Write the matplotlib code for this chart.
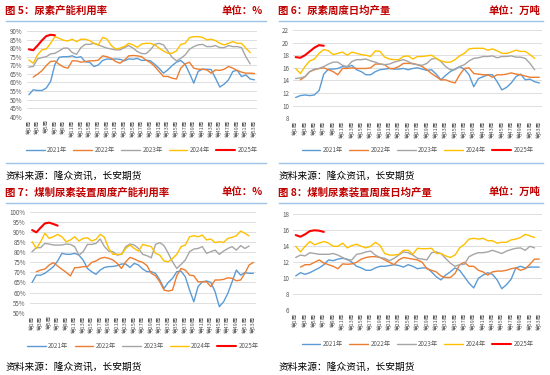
import numpy as np
import matplotlib
matplotlib.use("Agg")
import matplotlib.pyplot as plt
from matplotlib.lines import Line2D
from matplotlib.ticker import FuncFormatter

plt.rcParams['font.family'] = ['Noto Sans CJK SC', 'DejaVu Sans']

nan = np.nan
weeks = np.arange(1, 54)
tick_weeks = weeks[::2]
tick_labels = [f'第{w}周' for w in tick_weeks]
years = ['2021年', '2022年', '2023年', '2024年', '2025年']
colors = ['#5B9BD5', '#ED7D31', '#A5A5A5', '#FFC000', '#FF0000']

# 图5 尿素产能利用率 (%)
u21 = [52.8, 55.7, 55.3, 55.3, 56.7, 60.5, 70.5, 74.7, 75, 75, 75.5, 74.5, 75, 72, 71.8, 69.3, 70.2, 72.8,
       73.7, 73.5, 73.7, 73.5, 72.6, 73.7, 73.5, 74, 72.8, 73, 72.6, 70.6, 68.3, 65.4, 67.3, 69.8, 71.8,
       72.8, 70.6, 65.4, 59.6, 66.4, 67.7, 67.7, 67.5, 62.5, 57.3, 59, 61.5, 66.4, 67.1, 63.4, 64.4, 62, 61.5]
u22 = [nan, 63.1, 64.8, 66.8, 69.8, 72.2, 72.5, 70.5, 69, 68.3, 72.6, 72.6, 71.8, 72.2, 72.6, 72.6, 73, 75.5,
       75, 74, 72.2, 71.2, 73, 75.5, 75.7, 75.5, 75, 73, 71.6, 69.3, 66.4, 63.5, 63.5, 62.5, 62, 68.3, 70.8,
       71.8, 68.3, 67.7, 67.7, 67.3, 65.4, 67.3, 67, 67.7, 69.3, 68.3, 67, 66, 65.4, 65.4, 65.2]
u23 = [68.9, 69.3, 73.7, 74.5, 75, 76.6, 77, 78.4, 80, 80, 77.4, 76.4, 80.3, 82.2, 82.2, 82.8, 81.9, 80.9,
       80, 79.5, 79, 79, 80.3, 81.5, 80, 78, 76.8, 76.8, 79, 82.2, 82.8, 81.9, 78.4, 74.7, 72.6, 74, 76,
       79.3, 80.9, 81.9, 82.2, 80.9, 80.9, 81.5, 80.3, 80.3, 81.5, 80.9, 80.9, 80.3, 75, 70.8, nan]
u24 = [73.1, 71.2, 76, 79, 79.5, 82.8, 86.7, 85.7, 84.6, 84.2, 85.2, 83.8, 85.2, 85.2, 84.4, 82.8, 81.9, 86.3,
       85.3, 81.5, 79.5, 80, 80.9, 82.8, 81.9, 80.5, 82.4, 82.8, 82.8, 81.9, 80, 78.4, 77, 77, 78.4, 82.2,
       82.8, 86.1, 86.7, 86.7, 86.3, 84.8, 85.2, 84.4, 82.8, 81.9, 82.8, 83.8, 82.8, 82.8, 80, 77.4, nan]
u25 = [79.3, 78.8, 81.5, 84.5, 87, 87.8, 87.5]

# 图6 尿素周度日均产量 (万吨)
p21 = [11.3, 11.6, 11.7, 11.6, 11.7, 12.4, 15.0, 15.8, 15.8, 15.9, 16.2, 16.1, 16.4, 15.7, 15.4, 14.9, 14.9,
       15.4, 15.7, 15.8, 15.9, 15.8, 15.8, 15.9, 15.7, 15.9, 16, 15.8, 15.6, 15.7, 15, 14.1, 14.8, 15.4, 15.8,
       16.2, 15.8, 14.9, 13, 14.3, 14.6, 14.9, 14.9, 13.8, 12.5, 12.9, 13.6, 14.6, 15, 14.1, 14.2, 13.8, 13.6]
p22 = [nan, 14.1, 14.6, 15.4, 15.7, 15.9, 16, 15.7, 15.4, 14.9, 15.9, 15.9, 16, 15.9, 15.9, 15.9, 16, 16.6,
       16.6, 16.5, 15.9, 15.9, 16.2, 16.7, 16.7, 16.7, 16.5, 16.2, 15.7, 15.1, 14.6, 14.1, 14.1, 13.8, 13.6,
       14.9, 15.9, 16, 15.1, 15, 14.9, 14.9, 14.5, 14.9, 14.9, 15, 15.2, 15, 14.9, 14.7, 14.5, 14.5, 14.5]
p23 = [14.3, 14.4, 14.6, 15.4, 15.8, 15.9, 16.2, 16.6, 16.9, 16.9, 16.4, 16.2, 17, 17.3, 17.3, 17.4, 17.1,
       16.9, 16.6, 16.5, 16.6, 16.9, 17.1, 17.3, 17, 16.6, 16.5, 16.4, 16.7, 17.4, 17.5, 17, 16.2, 15.7, 15.7,
       16.2, 16.5, 17.1, 17.5, 17.6, 17.8, 17.8, 17.9, 17.6, 17.8, 17.8, 17.9, 17.7, 17.7, 17.5, 16.7, 15.7, nan]
p24 = [15.9, 15.1, 16.2, 17.1, 17.4, 18.3, 18.9, 18.7, 18.1, 18.3, 18.5, 18, 18.5, 18.3, 18.1, 18, 17.8,
       18.7, 18.6, 17.7, 17.4, 17.3, 17.3, 17.8, 17.9, 17.4, 17.8, 17.8, 17.9, 18, 17.5, 17.1, 16.9, 16.9,
       17.3, 17.9, 18.3, 19, 19.1, 19.1, 19.1, 18.8, 19, 18.7, 18.3, 18.3, 18.5, 18.8, 18.6, 18.6, 18.1, 17.5, nan]
p25 = [17.7, 17.6, 18, 18.6, 19.2, 19.6, 19.5]

# 图7 煤制尿素装置周度产能利用率 (%)
c21 = [65, 68.6, 68.6, 69.5, 71.1, 72.8, 75.6, 79.4, 78.9, 78.9, 79.4, 78.5, 76, 71.9, 70.3, 69, 71.1, 72.4,
       72.8, 72.9, 73.3, 74.1, 74.1, 72.4, 74.4, 73.6, 71.6, 70.3, 70.3, 69.5, 66.2, 62, 65, 67, 70.3, 70.6,
       67.8, 61.2, 55.4, 62.9, 65.3, 65.7, 65, 60.4, 53, 55.4, 59.6, 65.3, 71.1, 68.6, 69.8, 69.5, 69.5]
c22 = [nan, 70.3, 71.1, 71.6, 73.6, 74.8, 73.1, 71.5, 70, 68.2, 72.3, 72.4, 72.8, 72.8, 74.9, 75.6, 76.9,
       77.4, 76.9, 76.1, 74.4, 71.9, 75.2, 77.4, 76.6, 75.6, 74.9, 73.3, 69.5, 68.3, 65.3, 61.2, 60.7, 61.2,
       68.3, 71.9, 71.1, 68.6, 68.3, 65.3, 65.3, 65.3, 62.9, 66.2, 66.2, 66.5, 67.3, 67, 65.8, 66.2, 69.5, 73.6, 74.9]
c23 = [80.2, 82.2, 82.2, 84.3, 84, 83.5, 83.5, 83.5, 84, 83.8, 82.7, 78.5, 80.2, 83.8, 83.8, 84.3, 86.5,
       82.7, 80.5, 80.2, 78.5, 78.9, 82.7, 84, 83.5, 81.8, 78.9, 78.2, 77.2, 83.8, 84.7, 83.2, 79.4, 75.2,
       71.9, 73.9, 76.1, 80.2, 81.5, 81.8, 82.7, 79.4, 80.2, 81, 78.9, 80.5, 81.8, 82.7, 81, 83.2, 81.8, 83, nan]
c24 = [85.1, 81.8, 85.1, 89.3, 86.8, 87.6, 88.8, 87.6, 85.1, 86, 87.6, 85.5, 86.8, 87.1, 85.5, 86.3, 88.8,
       87.3, 81.8, 78.9, 78.9, 78.9, 81.8, 83.5, 81.8, 80.5, 83.8, 83.2, 82.7, 79.4, 78.5, 75.6, 75.2, 76.9,
       78.9, 82.7, 83.5, 87.6, 88.1, 87.6, 88.4, 86, 86.5, 84.7, 85.1, 84.8, 86.8, 87.3, 88.1, 90.4, 89.3, 88, nan]
c25 = [90.9, 89.8, 92.1, 94.2, 94.6, 93.9, 93.1]

# 图8 煤制尿素装置周度日均产量 (万吨)
d21 = [10.3, 10.7, 10.5, 10.7, 11, 11.3, 11.7, 12.3, 12.2, 12.4, 12.5, 12.4, 12, 11.5, 11.3, 11, 11, 11.3,
       11.5, 11.5, 11.6, 11.7, 11.6, 11.4, 11.7, 11.5, 11.2, 11.3, 11.3, 10.8, 10.2, 9.8, 10.4, 10.8, 11.3,
       11, 10.2, 9.4, 8.8, 10, 10.4, 10.7, 10.5, 9.8, 8.7, 9.2, 9.9, 11.3, 11.5, 11.3, 11.4, 11.4, 11.4]
d22 = [nan, 11.4, 11.7, 11.7, 12, 12.3, 11.9, 11.7, 11.5, 11.2, 11.8, 11.75, 11.8, 12, 12.4, 12.6, 12.7,
       12.7, 12.6, 12.3, 12, 11.7, 12.3, 12.6, 12.5, 12.4, 12.3, 12, 11.2, 11, 10.8, 10.3, 10.1, 10.1, 10.6,
       11.7, 12, 11.5, 11.5, 11, 10.8, 10.4, 10.8, 10.9, 10.9, 11, 11.2, 11.3, 11, 11.2, 11.75, 12.4, 12.4]
d23 = [12.6, 12.9, 12.8, 13.2, 13.1, 13, 13, 13, 13.1, 12.9, 12.6, 12.3, 12.3, 13, 13.1, 13.3, 13.4, 12.9,
       12.6, 12.5, 12.2, 12.5, 12.9, 13.3, 13.2, 12.9, 12.5, 12.4, 12.3, 13.2, 13.3, 13.1, 12.5, 11.9, 11.5,
       11.7, 11.75, 12.7, 13, 13.2, 13.2, 13.3, 13.5, 13.3, 13.1, 13.4, 13.6, 13.75, 13.8, 13.5, 14, 13.8, nan]
d24 = [14, 13.3, 14, 14.6, 14.2, 14.4, 14.6, 14.4, 14, 14, 14.4, 13.8, 14.1, 14.25, 14, 13.8, 14, 14.5,
       14.1, 13.1, 12.9, 12.9, 13, 13.5, 13.5, 13, 13.75, 13.7, 13.7, 13.75, 13.1, 13.1, 12.8, 12.6, 12.9,
       13.8, 14.25, 14.9, 15, 14.9, 15, 14.7, 14.7, 14.4, 14.5, 14.5, 14.8, 14.9, 15.1, 15.5, 15.3, 15.1, nan]
d25 = [15.4, 15.2, 15.5, 15.9, 16, 15.95, 15.8]

W, H = 550, 375
fig = plt.figure(figsize=(W / 100, H / 100), dpi=100)
RED = '#C00000'
SEP = '#9DC3E6'
GREY = '#595959'


def fx(x):
    return x / W


def fy(y):
    return 1 - y / H


def pct(v, pos):
    return f'{v:.0f}%'


def plain(v, pos):
    return f'{v:.0f}'


panels = [
    dict(title='图 5：尿素产能利用率', unit='单位：%', x0=5, x1=263, ty=11, top=20.5, bot=163, src=176,
         ax=(26.7, 31, 256.7, 116.7), leg=150, series=[u21, u22, u23, u24, u25],
         ylim=(40, 90), step=5, fmt=pct),
    dict(title='图 6：尿素周度日均产量', unit='单位：万吨', x0=278, x1=540, ty=11, top=20.5, bot=163, src=176,
         ax=(293.3, 30, 541.7, 118.3), leg=150, series=[p21, p22, p23, p24, p25],
         ylim=(8, 22), step=2, fmt=plain),
    dict(title='图 7：煤制尿素装置周度产能利用率', unit='单位：%', x0=5, x1=263, ty=192, top=202.5, bot=None,
         src=367, ax=(30, 211.7, 255.5, 312.7), leg=346, series=[c21, c22, c23, c24, c25],
         ylim=(50, 100), step=5, fmt=pct),
    dict(title='图 8：煤制尿素装置周度日均产量', unit='单位：万吨', x0=278, x1=540, ty=192, top=202.5, bot=None,
         src=367, ax=(293.4, 214.3, 541.6, 310.3), leg=344, series=[d21, d22, d23, d24, d25],
         ylim=(6, 18), step=2, fmt=plain),
]

for p in panels:
    fig.text(fx(p['x0']), fy(p['ty']), p['title'], color=RED, fontsize=7.5, fontweight='bold',
             ha='left', va='center')
    fig.text(fx(p['x1']), fy(p['ty']), p['unit'], color=RED, fontsize=7.5, fontweight='bold',
             ha='right', va='center')
    fig.add_artist(Line2D([fx(p['x0'] + 1), fx(p['x1'] + 3)], [fy(p['top'])] * 2, color=SEP, lw=1.0))
    if p['bot'] is not None:
        fig.add_artist(Line2D([fx(p['x0'] + 1), fx(p['x1'] + 3)], [fy(p['bot'])] * 2, color=SEP, lw=1.0))
    fig.text(fx(p['x0'] + 1), fy(p['src']), '资料来源：隆众资讯，长安期货', color='black', fontsize=7,
             ha='left', va='center')

    l, t, r, b = p['ax']
    ax = fig.add_axes([fx(l), fy(b), fx(r - l), (b - t) / H])
    handles = []
    for s, c, yr in zip(p['series'], colors, years):
        vals = np.full(53, np.nan)
        vals[:len(s)] = s
        lw = 1.5 if yr == '2025年' else 1.0
        h, = ax.plot(weeks, vals, color=c, lw=lw, solid_capstyle='round', solid_joinstyle='round')
        handles.append(h)
    lo, hi = p['ylim']
    ax.set_xlim(0.5, 53.5)
    ax.set_ylim(lo, hi)
    ax.set_yticks(np.arange(lo, hi + 0.01, p['step']))
    ax.yaxis.set_major_formatter(FuncFormatter(p['fmt']))
    ax.set_xticks(tick_weeks)
    ax.set_xticklabels(tick_labels, rotation=90, fontsize=4, color=GREY)
    ax.tick_params(axis='y', labelsize=4.5, labelcolor=GREY, length=0, pad=3)
    ax.tick_params(axis='x', length=0, pad=2)
    ax.grid(axis='y', color='#D9D9D9', lw=0.6)
    ax.set_axisbelow(True)
    for sp in ax.spines.values():
        sp.set_visible(False)
    ax.set_facecolor('none')

    cx = (l + r) / 2
    leg = fig.legend(handles, years, loc='center', bbox_to_anchor=(fx(cx), fy(p['leg'])), ncol=5,
                     frameon=False, fontsize=4.5, handlelength=3.0, columnspacing=1.0, handletextpad=0.4,
                     labelcolor=GREY)

fig.savefig('out.png', dpi=100)
